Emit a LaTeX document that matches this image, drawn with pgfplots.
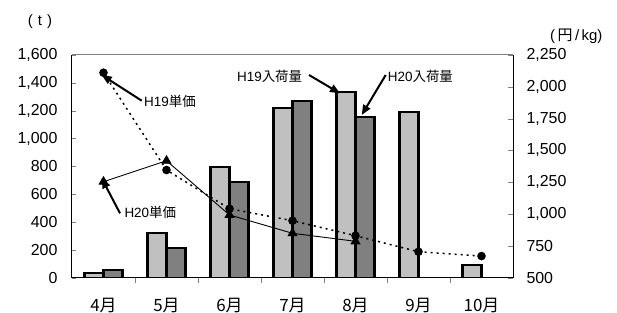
\documentclass[border=0pt]{standalone}
\usepackage{fontspec}
\setmainfont{Liberation Sans}
\newfontfamily\cjk{Noto Sans CJK JP}
\usepackage{pgfplots}
\pgfplotsset{compat=1.18}
\usetikzlibrary{arrows.meta}
\definecolor{barA}{RGB}{192,192,192}
\definecolor{barB}{RGB}{128,128,128}
\begin{document}
\begin{tikzpicture}
\pgfplotsset{
  common/.style={
    at={(0,0)}, anchor=south west,
    scale only axis, width=441bp, height=222.7bp,
    xmin=-0.5, xmax=6.5,
    tick align=inside,
    axis line style={-, line width=1bp},
    ticklabel style={font=\fontsize{16}{16}\selectfont},
    /pgf/number format/.cd, 1000 sep={,}, assume math mode=true,
  }
}
\begin{axis}[common,
  ymin=0, ymax=1600,
  axis y line*=left, axis x line*=bottom,
  ytick={0,200,...,1600},
  major tick length=4bp,
  yticklabel style={xshift=-11bp},
  xtick={0,...,6},
  xticklabels={4月,5月,6月,7月,8月,9月,10月},
  xticklabel style={font=\cjk\fontsize{17}{17}\selectfont, yshift=-13bp},
  major x tick style={draw=none},
  extra x ticks={0.5,1.5,2.5,3.5,4.5,5.5},
  extra x tick labels={},
  extra x tick style={major x tick style={draw=gray, line width=0.8bp}, major tick length=5bp},
  ybar, bar width=19bp,
]
\addplot[ybar, fill=barA, draw=black, line width=2.2bp, bar shift=-9.5bp] coordinates {
  (0,36) (1,323) (2,793) (3,1217) (4,1336) (5,1192) (6,91)};
\addplot[ybar, fill=barB, draw=black, line width=2.2bp, bar shift=9.5bp] coordinates {
  (0,57) (1,216) (2,688) (3,1272) (4,1157)};
\end{axis}
\begin{axis}[common,
  ymin=500, ymax=2250,
  axis y line*=right, axis x line=none,
  ytick={500,750,...,2250},
  major tick length=5bp,
  yticklabel style={xshift=10bp},
]
\addplot[black, line width=1.5bp, dash pattern=on 2bp off 4bp,
  mark=*, mark size=3.5bp, mark options={solid}] coordinates {
  (0,2111) (1,1346) (2,1042) (3,948) (4,830) (5,704) (6,670)};
\addplot[black, line width=0.9bp,
  mark=triangle*, mark size=5bp, mark options={solid}] coordinates {
  (0,1254) (1,1419) (2,993) (3,849) (4,786)};
\end{axis}
\draw[gray, line width=1bp] (0,222.7bp) -- (441bp,222.7bp);
\tikzset{ann/.style={line width=2bp, -{Triangle[length=10bp,width=8bp]}}}
\draw[ann] (69.7bp,177bp) -- (29.7bp,202.7bp);
\node[anchor=west, inner sep=1bp, font=\fontsize{13.5}{13.5}\selectfont] at (71bp,176bp) {H19{\cjk 単価}};
\draw[ann] (48bp,64.4bp) -- (29.7bp,99.4bp);
\node[anchor=west, inner sep=1bp, font=\fontsize{13.5}{13.5}\selectfont] at (51.3bp,65bp) {H20{\cjk 単価}};
\draw[ann] (237bp,202.7bp) -- (268bp,184.4bp);
\node[anchor=east, inner sep=1bp, font=\fontsize{13.5}{13.5}\selectfont] at (231.3bp,201bp) {H19{\cjk 入荷量}};
\draw[ann] (313.7bp,202.7bp) -- (289.7bp,162.7bp);
\node[anchor=west, inner sep=1bp, font=\fontsize{13.5}{13.5}\selectfont] at (314.7bp,201bp) {H20{\cjk 入荷量}};
\node[font=\fontsize{15}{15}\selectfont] at (-32bp,256bp) {(\,\,t\,\,)};
\node[font=\fontsize{15}{15}\selectfont] at (504.3bp,241bp) {(\,{\cjk 円}\,/\,kg)};
\pgfresetboundingbox
\path (-72bp,-35.3bp) rectangle (545bp,277.7bp);
\end{tikzpicture}
\end{document}
